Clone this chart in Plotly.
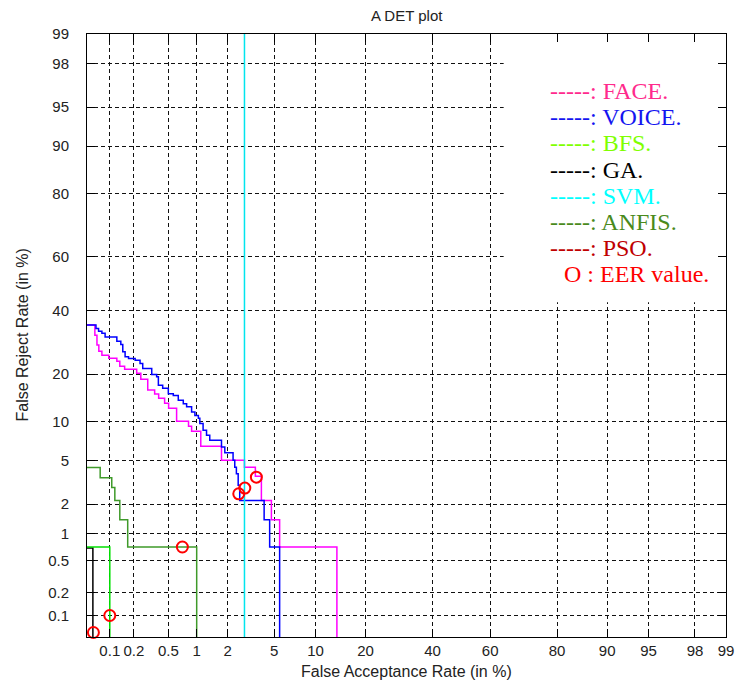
import plotly.graph_objects as go
from statistics import NormalDist

_nd = NormalDist()


def probit(values):
    return [_nd.inv_cdf(v / 100.0) for v in values]


# ---- data (percent) ----
tick_pct = [0.1, 0.2, 0.5, 1, 2, 5, 10, 20, 40, 60, 80, 90, 95, 98, 99]
tick_txt = ["0.1", "0.2", "0.5", "1", "2", "5", "10", "20", "40", "60", "80", "90", "95", "98", "99"]

face_far = [0.05, 0.0638, 0.068, 0.072, 0.079, 0.097, 0.123, 0.134, 0.154, 0.216, 0.242, 0.292,
            0.351, 0.39, 0.455, 0.504, 0.616, 0.824, 0.887, 1.1, 1.75, 2.83, 3.51, 3.94, 4.75, 5.51, 13.7]
face_frr = [35.0, 31.6, 28.4, 26.5, 25.3, 24.4, 23.5, 22.1, 21.3, 20.2, 18.7, 16.1,
            15.2, 14.3, 13.3, 12.3, 10.0, 9.22, 8.47, 6.5, 5.0, 4.36, 3.64, 2.18, 1.40, 0.71, 0.05]

voice_far = [0.05, 0.066, 0.0714, 0.079, 0.087, 0.123, 0.138, 0.146, 0.156, 0.172, 0.207, 0.237, 0.255,
             0.325, 0.37, 0.387, 0.433, 0.5, 0.567, 0.642, 0.726, 0.787, 0.887, 0.959, 1.04, 1.076,
             1.16, 1.255, 1.35, 1.75, 1.88, 2.24, 2.32, 2.40, 2.49, 2.57, 4.15, 4.6, 5.51]
voice_frr = [35.0, 33.85, 32.9, 32.2, 31.0, 29.6, 28.6, 26.3, 24.8, 24.3, 23.8, 22.9, 21.5,
             19.9, 19.3, 17.2, 16.5, 15.3, 14.9, 13.9, 13.2, 12.6, 11.6, 11.0, 10.5, 9.64,
             8.62, 7.9, 7.24, 6.42, 5.76, 5.0, 4.38, 3.84, 3.02, 2.18, 1.40, 0.71, 0.05]

bfs_far = [0.05, 0.1]
bfs_frr = [0.71, 0.05]

ga_far = [0.05, 0.06]
ga_frr = [0.69, 0.05]

svm_far = [2.83, 2.83]
svm_frr = [99.0, 0.05]

anfis_far = [0.05, 0.075, 0.106, 0.116, 0.134, 0.168, 1.0]
anfis_frr = [4.34, 3.53, 2.89, 2.18, 1.40, 0.71, 0.05]

eer_far = [0.061, 0.1, 0.71, 2.85, 2.52, 3.58]
eer_frr = [0.058, 0.1, 0.71, 2.85, 2.52, 3.58]

axis_lo, axis_hi = 0.05, 99.0

# ---- layout geometry (page pixels; body margin removed below) ----
W, H = 745, 683
PL, PT, PR, PB = 87, 34, 726, 637          # plot box in page pixels
L, T, R, B = PL, PT, W - PR, H - PB

fig = go.Figure()


def step_trace(far, frr, color, name):
    fig.add_trace(go.Scatter(x=probit(far), y=probit(frr), mode="lines", line_shape="hv",
                             line=dict(color=color, width=1.5), name=name,
                             hoverinfo="skip"))


step_trace(face_far, face_frr, "#ff00ff", "FACE")
step_trace(voice_far, voice_frr, "#0000ff", "VOICE")
step_trace(ga_far, ga_frr, "#000000", "GA")
step_trace(bfs_far, bfs_frr, "#00e000", "BFS")
step_trace(anfis_far, anfis_frr, "#3f9a2a", "ANFIS")
step_trace(svm_far, svm_frr, "#00e5ee", "SVM")

fig.add_trace(go.Scatter(x=probit(eer_far), y=probit(eer_frr), mode="markers",
                         marker=dict(symbol="circle-open", size=11, color="#ff0000",
                                     line=dict(color="#ff0000", width=2)),
                         cliponaxis=False, name="EER", hoverinfo="skip"))

# white legend background covering the grid
fig.add_shape(type="rect", xref="x", yref="y",
              x0=probit([64.5])[0], x1=probit([axis_hi])[0],
              y0=probit([43.2])[0], y1=probit([axis_hi])[0],
              fillcolor="white", line=dict(width=0), layer="between")

axis_common = dict(
    range=[probit([axis_lo])[0], probit([axis_hi])[0]],
    tickmode="array", tickvals=probit(tick_pct), ticktext=tick_txt,
    showgrid=True, gridcolor="#111111", gridwidth=1, griddash="4px,3px",
    zeroline=False, showline=True, linecolor="black", linewidth=1,
    mirror="ticks", ticks="inside", ticklen=8, tickcolor="black", tickwidth=1,
    tickfont=dict(family="Liberation Sans, Arial, sans-serif", size=15, color="#222222"),
)
fig.update_xaxes(**axis_common, ticklabelstandoff=0)
fig.update_yaxes(**axis_common, ticklabelstandoff=14)

plot_w = PR - PL
plot_h = PB - PT


def px_to_paper(px, py):
    return (px - PL) / plot_w, (PB - py) / plot_h


annotations = []
_, ty = px_to_paper(406, 15)
annotations.append(dict(text="A DET plot", x=0.5, y=ty, xref="paper", yref="paper",
                        showarrow=False, xanchor="center", yanchor="middle",
                        font=dict(family="Liberation Sans, Arial, sans-serif", size=15, color="#222222")))
_, xty = px_to_paper(406, 671)
annotations.append(dict(text="False Acceptance Rate (in %)", x=0.5, y=xty, xref="paper", yref="paper",
                        showarrow=False, xanchor="center", yanchor="middle",
                        font=dict(family="Liberation Sans, Arial, sans-serif", size=16, color="#222222")))
ytx, _ = px_to_paper(22, 335)
annotations.append(dict(text="False Reject Rate (in %)", x=ytx, y=0.5, xref="paper", yref="paper",
                        showarrow=False, xanchor="center", yanchor="middle", textangle=-90,
                        font=dict(family="Liberation Sans, Arial, sans-serif", size=16, color="#222222")))

legend_items = [
    ("-----: FACE.", "#ff2a8c", 548),
    ("-----: VOICE.", "#1414f0", 548),
    ("-----: BFS.", "#80ff00", 548),
    ("-----: GA.", "#000000", 548),
    ("-----: SVM.", "#00ffff", 548),
    ("-----: ANFIS.", "#4a8a1c", 548),
    ("-----: PSO.", "#c00000", 548),
    ("O : EER value.", "#ff0000", 562),
]
for i, (txt, col, lx) in enumerate(legend_items):
    ax, ay = px_to_paper(lx, 91 + i * 26.2)
    annotations.append(dict(text=txt, x=ax, y=ay, xref="paper", yref="paper",
                            showarrow=False, xanchor="left", yanchor="middle",
                            font=dict(family="Liberation Serif, Times New Roman, serif", size=24, color=col)))

fig.update_layout(
    width=W, height=H,
    margin=dict(l=L, r=R, t=T, b=B, pad=0),
    paper_bgcolor="white", plot_bgcolor="white",
    showlegend=False,
    annotations=annotations,
)

fig.write_html("out.html",
               config={"displayModeBar": False, "staticPlot": True},
               post_script="document.body.style.margin='0px';document.body.style.overflow='hidden';")
